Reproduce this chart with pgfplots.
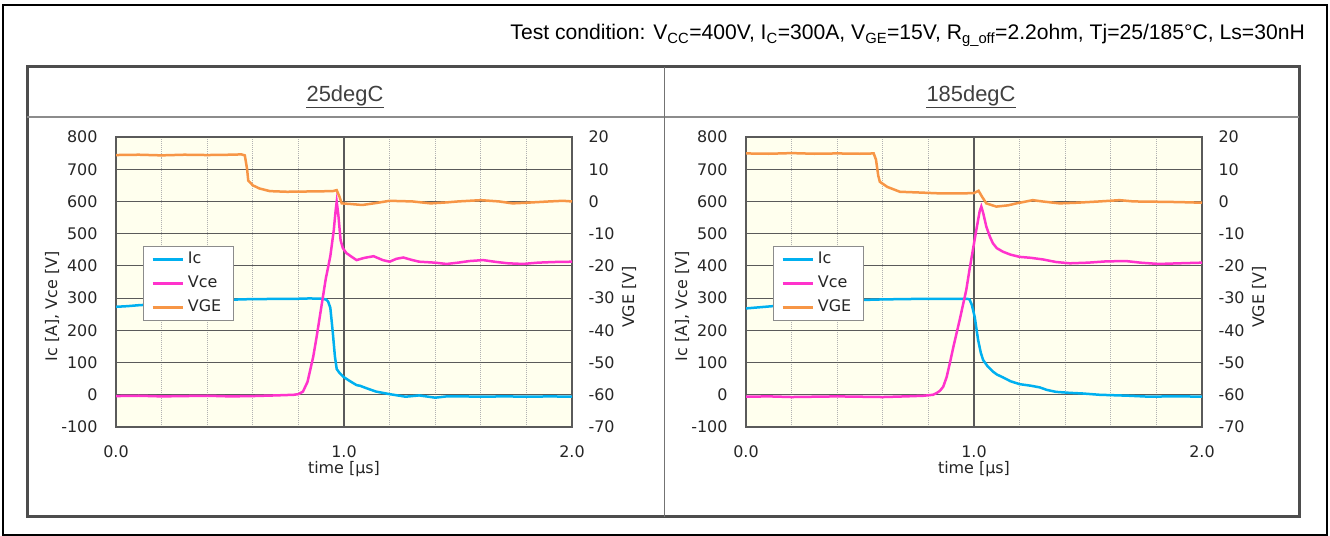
\documentclass[border=0pt]{standalone}
\usepackage{fontspec}
\setmainfont{DejaVu Sans}
\newfontfamily\arial{Liberation Sans}
\usepackage{pgfplots}
\pgfplotsset{compat=1.18}
\definecolor{icc}{HTML}{00B0F0}
\definecolor{vcec}{HTML}{FF33CC}
\definecolor{vgec}{HTML}{F79646}
\definecolor{bgc}{HTML}{FFFFEE}
\definecolor{gridc}{HTML}{5A5A5A}
\definecolor{framec}{HTML}{4D4D4D}
\newcommand{\tfont}{\fontsize{16}{19}\selectfont}

\pgfplotsset{
  mainax/.style={
    scale only axis, width=456bp, height=290bp,
    xmin=0, xmax=2, ymin=-100, ymax=800,
    xtick={0,1,2},
    minor xtick={0.2,0.4,0.6,0.8,1.2,1.4,1.6,1.8},
    ytick={-100,0,100,200,300,400,500,600,700,800},
    xmajorgrids, ymajorgrids, xminorgrids,
    major grid style={gridc, line width=1.2bp},
    minor grid style={black!30, line width=1bp, densely dotted},
    axis line style={gridc, line width=1.2bp},
    axis background/.style={fill=bgc},
    tick style={draw=none},
    /pgf/number format/assume math mode=true,
    ticklabel style={font=\tfont, text=black!85},
    xticklabel style={/pgf/number format/fixed, /pgf/number format/fixed zerofill, /pgf/number format/precision=1, yshift=-15bp},
    yticklabel style={xshift=-15bp},
    xlabel={time [µs]},
    ylabel={Ic [A], Vce [V]},
    label style={font=\tfont, text=black!85},
    xlabel style={at={(axis description cs:0.5,-0.145)}, anchor=center},
    ylabel style={at={(axis description cs:-0.14,0.417)}, anchor=center},
    legend cell align=left,
    legend image code/.code={\draw[##1] (0bp,0bp) -- (30bp,0bp);},
    legend style={at={(axis description cs:0.059,0.624)}, anchor=north west,
      draw=black!45, line width=1bp, fill=white, font=\tfont,
      inner xsep=8bp, inner ysep=1bp, row sep=0bp,
      nodes={text height=12bp, text depth=4bp, inner sep=4bp, text=black!85}},
  },
  vgeax/.style={
    scale only axis, width=456bp, height=290bp,
    xmin=0, xmax=2, ymin=-70, ymax=20,
    ytick={-70,-60,-50,-40,-30,-20,-10,0,10,20},
    axis y line*=right, axis x line=none,
    y axis line style={draw=none},
    tick style={draw=none},
    /pgf/number format/assume math mode=true,
    ticklabel style={font=\tfont, text=black!85},
    yticklabel style={xshift=13bp},
    ylabel={VGE [V]},
    label style={font=\tfont, text=black!85},
    ylabel style={at={(axis description cs:1.125,0.448)}, anchor=center},
  },
  icst/.style={icc, line width=2.5bp},
  vcest/.style={vcec, line width=2.5bp},
  vgest/.style={vgec, line width=2.5bp},
}

\begin{document}
\begin{tikzpicture}
\path[use as bounding box] (0bp,0bp) rectangle (1330bp,536bp);

% frames
\draw[black, line width=2bp] (3bp,1bp) rectangle (1327bp,531bp);
\draw[framec, line width=3bp] (27bp,19bp) rectangle (1299bp,469bp);
\draw[black!45, line width=2bp] (27bp,419bp) -- (1299bp,419bp);
\draw[black!55, line width=1bp] (664bp,19bp) -- (664bp,469bp);

% texts
\node[font=\arial\fontsize{21.2}{25}\selectfont, text=black, anchor=base east, inner sep=0pt] at (1305bp,496bp)
 {Test condition: V\textsubscript{CC}=400V, I\textsubscript{C}=300A, V\textsubscript{GE}=15V, R\textsubscript{g\_off}=2.2ohm, Tj=25/185°C, Ls=30nH};
\node[font=\arial\fontsize{22}{26}\selectfont, text=black!75, anchor=base, inner sep=0pt] (t1) at (345bp,434.3bp) {25degC};
\draw[black!75, line width=1.2bp] ([yshift=-6bp]t1.base west) -- ([yshift=-6bp]t1.base east);
\node[font=\arial\fontsize{22}{26}\selectfont, text=black!75, anchor=base, inner sep=0pt] (t2) at (971bp,434.3bp) {185degC};
\draw[black!75, line width=1.2bp] ([yshift=-6bp]t2.base west) -- ([yshift=-6bp]t2.base east);

% ---------- 25 degC ----------
\begin{axis}[mainax, at={(116bp,109bp)}, anchor=south west]
\addplot[icst] coordinates {(0,273) (0.05,275) (0.1,278) (0.15,280) (0.2,283) (0.25,285) (0.3,287) (0.35,289) (0.4,291) (0.45,293) (0.5,295) (0.55,296) (0.6,297) (0.65,297) (0.7,298) (0.75,298) (0.8,298) (0.85,299) (0.9,298) (0.92,296) (0.93,290) (0.94,270) (0.95,200) (0.96,120) (0.968,80) (0.98,68) (0.997,56) (1.02,45) (1.055,30) (1.07,28) (1.1,20) (1.14,10) (1.2,2) (1.27,-6) (1.33,-2) (1.4,-9) (1.45,-5) (1.52,-5) (1.6,-6) (1.7,-5) (1.82,-6) (1.9,-5) (2.0,-6)};
\addlegendentry{Ic}
\addplot[vcest] coordinates {(0,-4) (0.1,-3) (0.2,-5) (0.3,-4) (0.4,-3) (0.5,-5) (0.6,-4) (0.7,-2) (0.78,0) (0.8,2) (0.82,10) (0.84,40) (0.865,118) (0.88,180) (0.9,270) (0.92,360) (0.94,430) (0.955,510) (0.963,570) (0.968,599) (0.975,560) (0.985,480) (0.995,455) (1.01,440) (1.03,430) (1.055,418) (1.09,425) (1.13,430) (1.17,418) (1.2,413) (1.23,422) (1.26,426) (1.3,418) (1.33,413) (1.4,410) (1.45,406) (1.5,410) (1.55,415) (1.61,418) (1.67,412) (1.72,408) (1.785,406) (1.85,410) (1.92,412) (2.0,413)};
\addlegendentry{Vce}
\addlegendimage{vgest}
\addlegendentry{VGE}
\end{axis}
\begin{axis}[vgeax, at={(116bp,109bp)}, anchor=south west]
\addplot[vgest] coordinates {(0,14.4) (0.1,14.5) (0.2,14.3) (0.3,14.5) (0.4,14.4) (0.5,14.5) (0.55,14.6) (0.565,14.3) (0.575,10) (0.58,6.5) (0.6,5.0) (0.63,4.0) (0.675,3.2) (0.75,3.0) (0.85,3.1) (0.95,3.2) (0.968,3.5) (0.98,1.5) (0.99,-0.6) (1.03,-0.8) (1.08,-1.1) (1.14,-0.5) (1.2,0.2) (1.3,0) (1.38,-0.6) (1.45,-0.3) (1.5,0) (1.6,0.4) (1.68,0) (1.74,-0.6) (1.8,-0.4) (1.9,0) (1.96,0.2) (2.0,0)};
\end{axis}

% ---------- 185 degC ----------
\begin{axis}[mainax, at={(746bp,109bp)}, anchor=south west]
\addplot[icst] coordinates {(0,268) (0.05,271) (0.1,274) (0.15,277) (0.2,280) (0.25,283) (0.3,286) (0.35,288) (0.4,290) (0.45,292) (0.5,294) (0.55,295) (0.6,296) (0.7,297) (0.8,298) (0.9,298) (0.95,298) (0.97,298) (0.98,296) (0.99,280) (1.003,242) (1.018,170) (1.03,130) (1.04,108) (1.06,88) (1.083,72) (1.1,63) (1.127,54) (1.16,42) (1.2,33) (1.25,28) (1.288,23) (1.32,15) (1.36,9) (1.42,6) (1.477,4) (1.55,0) (1.594,-1) (1.68,-3) (1.77,-6) (1.85,-5) (1.92,-5) (2.0,-6)};
\addlegendentry{Ic}
\addplot[vcest] coordinates {(0,-6) (0.1,-5) (0.2,-7) (0.3,-6) (0.4,-5) (0.5,-6) (0.6,-7) (0.7,-5) (0.78,-3) (0.82,0) (0.835,5) (0.85,12) (0.865,25) (0.88,55) (0.894,98) (0.91,150) (0.937,232) (0.966,325) (0.98,387) (1.0,470) (1.01,511) (1.025,570) (1.032,584) (1.04,565) (1.054,522) (1.07,490) (1.083,470) (1.1,455) (1.127,444) (1.16,435) (1.2,428) (1.25,425) (1.302,420) (1.36,412) (1.42,408) (1.5,410) (1.58,414) (1.667,415) (1.73,410) (1.81,406) (1.9,408) (2.0,410)};
\addlegendentry{Vce}
\addlegendimage{vgest}
\addlegendentry{VGE}
\end{axis}
\begin{axis}[vgeax, at={(746bp,109bp)}, anchor=south west]
\addplot[vgest] coordinates {(0,14.9) (0.1,14.8) (0.2,15.0) (0.3,14.8) (0.4,14.9) (0.5,14.8) (0.56,14.9) (0.57,13) (0.58,8) (0.587,6.1) (0.62,4.5) (0.675,3.0) (0.75,2.8) (0.85,2.5) (0.95,2.5) (1.0,2.6) (1.02,3.3) (1.035,1.5) (1.054,-0.6) (1.098,-1.6) (1.15,-1.2) (1.186,-0.6) (1.258,0.4) (1.3,0) (1.375,-0.6) (1.45,-0.4) (1.55,0) (1.638,0.4) (1.7,0) (1.81,-0.1) (1.9,-0.2) (2.0,-0.4)};
\end{axis}
\end{tikzpicture}
\end{document}
